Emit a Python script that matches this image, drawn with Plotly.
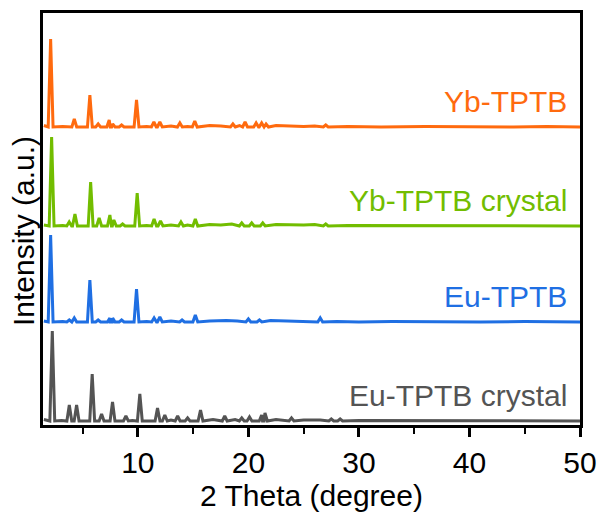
import plotly.graph_objects as go

# Reflections of each pattern: 2-theta position (degree) and height above baseline (a.u.)
yb_pos = [2.11, 4.25, 5.66, 6.41, 7.41, 7.72, 8.53, 9.88, 11.45, 11.99, 13.8, 15.15, 18.6, 19.7, 20.7, 21.2, 21.6, 27.0]
yb_int = [88, 8, 32, 3, 7, 3, 2, 27, 5, 5, 4, 6, 3, 5, 4, 4, 3, 2]

ybc_pos = [2.2, 3.79, 4.31, 5.73, 6.5, 7.47, 7.83, 8.62, 9.94, 11.47, 12.05, 13.9, 15.2, 19.4, 20.3, 21.3, 27.0]
ybc_int = [89, 4, 12, 44, 8, 11, 6, 2, 33, 7, 5, 4, 7, 3, 3, 3, 2]

eu_pos = [2.11, 3.8, 4.25, 5.66, 6.41, 7.47, 7.72, 8.53, 9.88, 11.47, 11.99, 14.0, 15.2, 20.0, 21.0, 26.5]
eu_int = [87, 2, 4, 42, 2, 4, 4, 2, 33, 4, 5, 2, 7, 3, 2, 4]

euc_pos = [2.26, 3.8, 4.46, 5.87, 6.72, 7.71, 8.92, 10.18, 11.78, 12.44, 13.6, 14.5, 15.67, 17.86, 19.4, 20.1, 21.2, 21.5, 23.9, 27.5, 28.3]
euc_int = [90, 16, 16, 47, 7, 19, 5, 27, 13, 6, 5, 3, 11, 5, 3, 4, 6, 8, 3, 2, 2]

# Background between reflections: 2-theta (degree) and level above baseline
yb_bg_x = [1.5, 3.2, 10.8, 13.0, 14.5, 16.5, 17.5, 19.2, 22.5, 23.5, 25.0, 26.0, 29.0, 32.0, 36.0, 40.0, 44.0, 47.0, 50.0]
yb_bg_y = [1.5, 0.5, 0.5, 1.0, 0.5, 1.5, 1.0, 1.5, 1.5, 1.0, 0.5, 1.0, 0.5, 0.0, 0.5, 0.0, 0.0, 0.5, 0.0]

ybc_bg_x = [1.5, 3.2, 10.8, 13.0, 14.5, 16.5, 17.5, 18.5, 22.5, 23.5, 25.0, 26.0, 29.0, 32.0, 36.0, 40.0, 44.0, 47.0, 50.0]
ybc_bg_y = [1.0, 0.5, 0.5, 1.0, 1.0, 1.5, 1.0, 2.0, 1.5, 1.0, 1.0, 1.5, 0.5, 0.5, 0.5, 0.0, 0.5, 0.0, 0.0]

eu_bg_x = [1.5, 3.2, 10.8, 13.0, 16.5, 18.0, 19.0, 22.0, 23.5, 25.0, 28.0, 30.0, 33.0, 37.0, 41.0, 45.0, 50.0]
eu_bg_y = [1.0, 0.5, 0.5, 1.0, 1.0, 1.5, 1.0, 1.5, 1.0, 0.5, 0.5, 0.0, 0.5, 0.0, 0.0, 0.5, 0.0]

euc_bg_x = [1.5, 3.1, 9.5, 13.0, 16.8, 18.8, 22.5, 25.0, 26.5, 30.0, 33.0, 36.0, 40.0, 44.0, 47.0, 50.0]
euc_bg_y = [1.5, 0.5, 0.5, 1.0, 1.5, 1.5, 1.5, 1.0, 1.0, 0.5, 0.5, 0.5, 0.0, 0.5, 0.0, 0.0]

# Vertical stacking offsets of the four patterns
offsets = [298, 199, 103, 4]
names = ["Yb-TPTB", "Yb-TPTB crystal", "Eu-TPTB", "Eu-TPTB crystal"]
colors = ["#FF6A0E", "#72BD00", "#1F6FE3", "#545454"]

x_ticks = [10, 20, 30, 40, 50]

HALF_WIDTH = 0.22  # half base width of a drawn reflection, degree


def pattern(pos, inten, bg_x, bg_y):
    pts = []
    for c, h in zip(pos, inten):
        pts += [(c - HALF_WIDTH, 0.0), (c, float(h)), (c + HALF_WIDTH, 0.0)]
    for bx, by in zip(bg_x, bg_y):
        if all(abs(bx - c) > 1.5 * HALF_WIDTH for c in pos):
            pts.append((bx, by))
    pts.sort(key=lambda p: p[0])
    return [p[0] for p in pts], [p[1] for p in pts]


series = [
    (yb_pos, yb_int, yb_bg_x, yb_bg_y),
    (ybc_pos, ybc_int, ybc_bg_x, ybc_bg_y),
    (eu_pos, eu_int, eu_bg_x, eu_bg_y),
    (euc_pos, euc_int, euc_bg_x, euc_bg_y),
]

FONT = "Liberation Sans, Arial, sans-serif"
FS = 30

fig = go.Figure()
for (pos, inten, bx, by), off, name, col in zip(series, offsets, names, colors):
    xs, ys = pattern(pos, inten, bx, by)
    fig.add_trace(go.Scatter(
        x=xs, y=[v + off for v in ys], mode="lines", name=name,
        line=dict(color=col, width=3), showlegend=False,
    ))
    fig.add_annotation(
        x=49.0, y=off + 26, xref="x", yref="y", text=name, showarrow=False,
        xanchor="right", yanchor="middle",
        font=dict(family=FONT, size=FS, color=col),
    )

# Vertical axis title
fig.add_annotation(
    x=-0.036, y=0.47, xref="paper", yref="paper", text="Intensity (a.u.)",
    textangle=-90, showarrow=False, xanchor="center", yanchor="middle",
    font=dict(family=FONT, size=FS, color="black"),
)

fig.update_xaxes(
    range=[1.42, 50], tickvals=x_ticks, ticks="outside", ticklen=9, tickwidth=2.5,
    tickcolor="black", showline=True, linecolor="black", linewidth=3, mirror=True,
    showgrid=False, zeroline=False, automargin=False,
    minor=dict(dtick=5, tick0=0, ticks="outside", ticklen=6, tickwidth=2, tickcolor="black"),
    tickfont=dict(family=FONT, size=FS, color="black"),
    title=dict(text="2 Theta (degree)", font=dict(family=FONT, size=FS, color="black"), standoff=6),
)
fig.update_yaxes(
    range=[0, 412], showticklabels=False, ticks="", showline=True, linecolor="black",
    linewidth=3, mirror=True, showgrid=False, zeroline=False, automargin=False,
)
fig.update_layout(
    width=600, height=519, margin=dict(l=43, r=20, t=13, b=94),
    paper_bgcolor="white", plot_bgcolor="white",
)
fig.write_html("out.html")
